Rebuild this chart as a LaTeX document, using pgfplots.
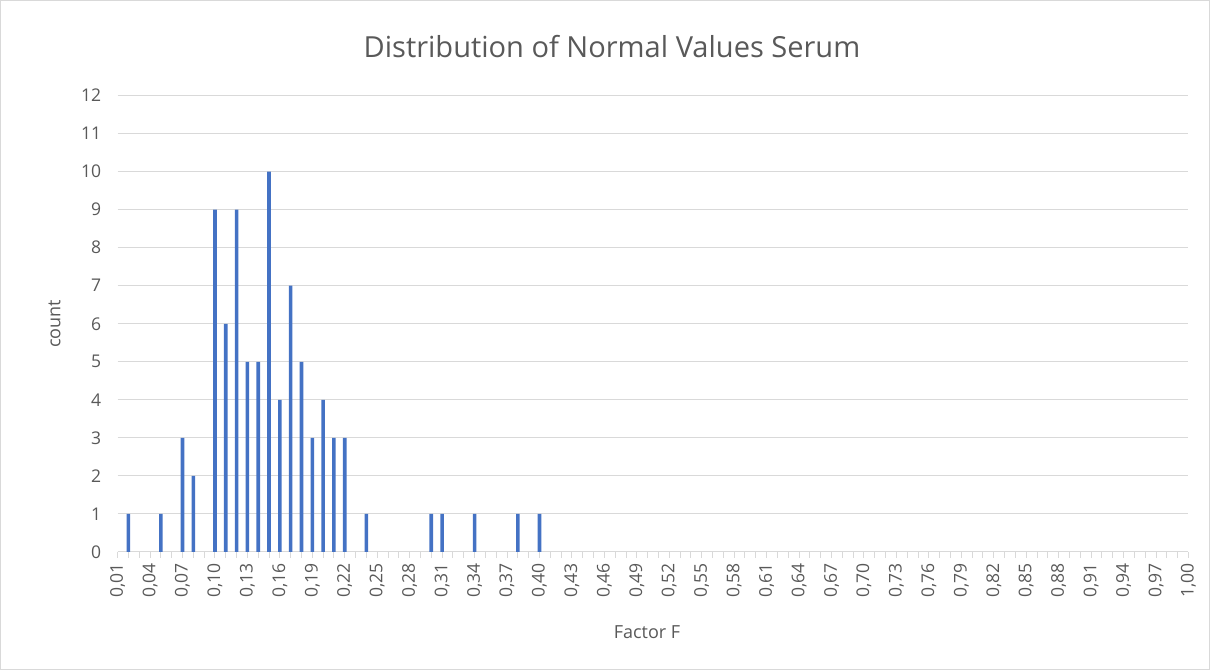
\documentclass[border=0pt]{standalone}
\usepackage{fontspec}
\setmainfont{Open Sans}
\usepackage{pgfplots}
\pgfplotsset{compat=1.18}
\definecolor{barblue}{HTML}{4472C4}
\definecolor{gridgray}{HTML}{D9D9D9}
\definecolor{txt}{HTML}{595959}
\begin{document}
\begin{tikzpicture}
\begin{axis}[
  scale only axis, width=1070pt, height=456pt,
  xmin=1, xmax=100, ymin=0, ymax=12,
  axis lines*=left,
  y axis line style={draw=none},
  x axis line style={gridgray, line width=1pt},
  ytick={0,...,12},
  ytick style={draw=none},
  ymajorgrids,
  major grid style={gridgray, line width=1pt},
  xtick={1,4,...,100},
  minor xtick={1,...,100},
  xticklabels={{0,01},{0,04},{0,07},{0,10},{0,13},{0,16},{0,19},{0,22},{0,25},{0,28},{0,31},{0,34},{0,37},{0,40},{0,43},{0,46},{0,49},{0,52},{0,55},{0,58},{0,61},{0,64},{0,67},{0,70},{0,73},{0,76},{0,79},{0,82},{0,85},{0,88},{0,91},{0,94},{0,97},{1,00}},
  xtick style={gridgray, line width=1pt},
  minor x tick style={gridgray, line width=1pt},
  tick align=outside,
  major tick length=6pt, minor tick length=6pt,
  x tick label style={rotate=90, anchor=east, font=\fontsize{17.5}{21}\selectfont, text=txt, xshift=-2pt},
  y tick label style={font=\fontsize{17.5}{21}\selectfont, text=txt, xshift=-7pt},
  /pgf/number format/assume math mode=true,
  clip=false,
]
% x in hundredths: category k = Factor F value 0.0k
\addplot[ybar, bar width=3.6pt, fill=barblue, draw=none] coordinates {
  (2,1) (5,1) (7,3) (8,2) (10,9) (11,6) (12,9) (13,5) (14,5) (15,10)
  (16,4) (17,7) (18,5) (19,3) (20,4) (21,3) (22,3) (24,1) (30,1) (31,1)
  (34,1) (38,1) (40,1)
};
\node[font=\fontsize{29}{34}\selectfont, text=txt] at ([xshift=-41pt,yshift=49pt]rel axis cs:0.5,1) {Distribution of Normal Values Serum};
\node[font=\fontsize{18}{22}\selectfont, text=txt] at ([xshift=-6pt,yshift=-80pt]rel axis cs:0.5,0) {Factor F};
\node[font=\fontsize{18}{22}\selectfont, text=txt, rotate=90] at ([xshift=-63pt]rel axis cs:0,0.5) {count};
\end{axis}
\draw[gridgray, line width=1pt] ([shift={(-117pt,-117pt)}]current axis.south west) rectangle ([shift={(21pt,95pt)}]current axis.north east);
\end{tikzpicture}
\end{document}
